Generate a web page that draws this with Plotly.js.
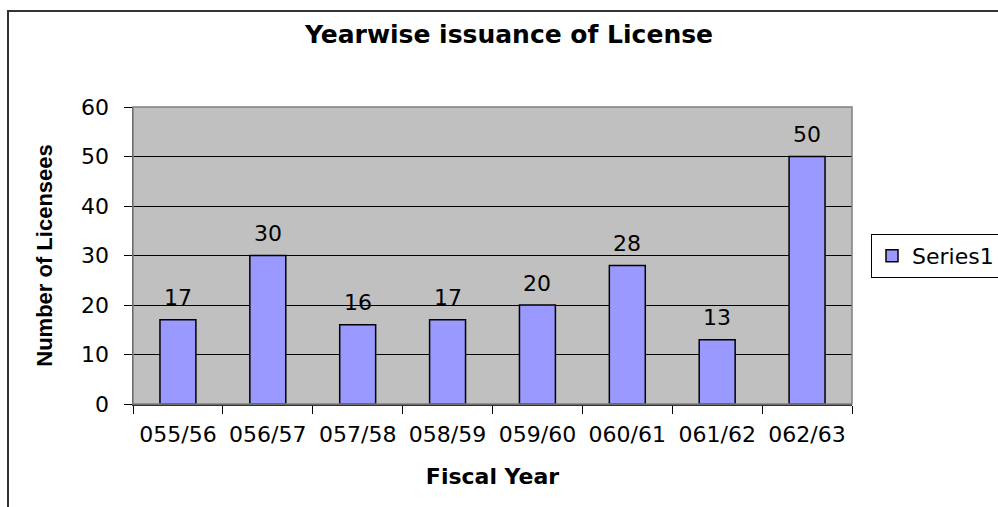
<!DOCTYPE html>
<html>
<head>
<meta charset="utf-8">
<script src="https://cdn.plot.ly/plotly-3.0.1.min.js"></script>
<style>
html,body{margin:0;padding:0;background:#fff;overflow:hidden;}
#chart{width:998px;height:507px;}
</style>
</head>
<body>
<div id="chart"></div>
<script>
var categories = ["055/56","056/57","057/58","058/59","059/60","060/61","061/62","062/63"];
var licenses = [17, 30, 16, 17, 20, 28, 13, 50];
var seriesName = "Series1";
var yTickVals = [0,10,20,30,40,50,60];

var FONT = "DejaVu Sans, Liberation Sans, Arial, sans-serif";
var FONT_V = "Liberation Sans, Arial, sans-serif";

var trace = {
  type: "bar",
  x: categories,
  y: licenses,
  name: seriesName,
  width: 0.4,
  marker: {color: "#9999FF", line: {color: "#000000", width: 1.5}},
  hoverinfo: "x+y"
};

var annotations = categories.map(function(c, i){
  return {x: c, y: licenses[i], xref: "x", yref: "y", text: String(licenses[i]),
    showarrow: false, yanchor: "middle", yshift: 22,
    font: {family: FONT, size: 22, color: "#000"}};
});

var layout = {
  width: 998, height: 507,
  margin: {l: 133, r: 146, t: 107, b: 103},
  paper_bgcolor: "#ffffff",
  plot_bgcolor: "#C0C0C0",
  font: {family: FONT, color: "#000"},
  title: {text: "<b>Yearwise issuance of License</b>", font: {family: FONT, size: 25, color: "#000"},
    x: 0.51, xanchor: "center", xref: "container", y: 1 - 34/507, yanchor: "middle", yref: "container"},
  xaxis: {
    type: "category",
    tickson: "boundaries",
    ticks: "outside", ticklen: 8, tickcolor: "#000", tickwidth: 1,
    showline: true, linecolor: "#333", linewidth: 1.5,
    showgrid: false,
    ticklabelstandoff: 10,
    tickfont: {family: FONT, size: 22, color: "#000"},
    title: {text: "<b>Fiscal Year</b>", font: {family: FONT, size: 22, color: "#000"}, standoff: 22},
    fixedrange: true
  },
  yaxis: {
    range: [0, 60],
    tickvals: yTickVals,
    ticks: "outside", ticklen: 8, tickcolor: "#000", tickwidth: 1,
    showline: true, linecolor: "#333", linewidth: 1.5,
    showgrid: true, gridcolor: "#000", gridwidth: 1,
    zeroline: false,
    ticklabelstandoff: 10,
    tickfont: {family: FONT, size: 22, color: "#000"},
    title: {text: "<b>Number of Licensees</b>", font: {family: FONT_V, size: 22, color: "#000"}, standoff: 22},
    fixedrange: true
  },
  showlegend: true,
  legend: {
    xref: "container", yref: "container",
    x: 871/998, xanchor: "left", y: 1 - 256/507, yanchor: "middle",
    bordercolor: "#000", borderwidth: 1, bgcolor: "#fff",
    font: {family: FONT, size: 22, color: "#000"}
  },
  annotations: annotations,
  shapes: [
    {type: "rect", xref: "paper", yref: "paper", x0: 0, x1: 1, y0: 0, y1: 1,
     line: {color: "#808080", width: 1.5}, fillcolor: "rgba(0,0,0,0)", layer: "above"},
    {type: "rect", xref: "paper", yref: "paper", x0: (8-133)/719, x1: (1010-133)/719,
     y0: (404-520)/297, y1: (404-11)/297,
     line: {color: "#333", width: 2}, fillcolor: "rgba(0,0,0,0)", layer: "above"}
  ],
  bargap: 0.6
};

Plotly.newPlot("chart", [trace], layout, {displayModeBar: false, staticPlot: true});
</script>
</body>
</html>
